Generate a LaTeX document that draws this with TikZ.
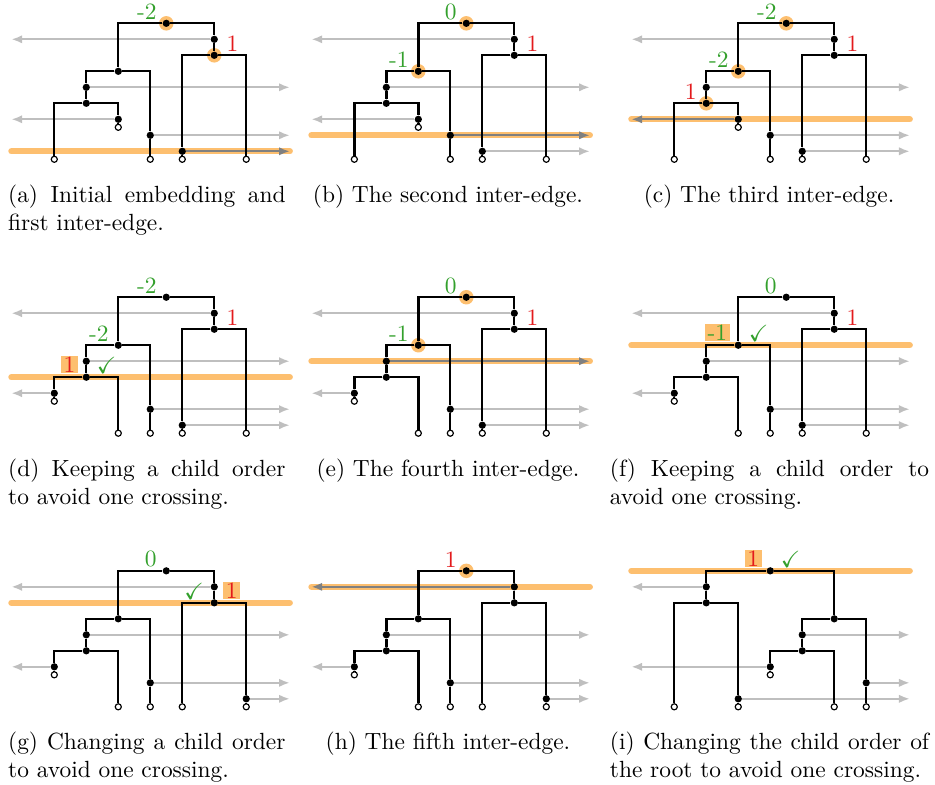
\documentclass[tikz,border=0pt]{standalone}
\usepackage{amssymb}
\usetikzlibrary{positioning,arrows.meta,backgrounds}
\definecolor{hlorange}{RGB}{253,191,111}
\definecolor{iegray}{RGB}{191,191,191}
\definecolor{iedark}{RGB}{128,128,128}
\definecolor{pgreen}{RGB}{51,160,44}
\definecolor{pred}{RGB}{227,26,28}
\tikzstyle{dot}=[circle,fill=black,inner sep=0pt,minimum size=3.1pt]
\tikzstyle{leaf}=[circle,draw=black,fill=white,line width=0.5pt,inner sep=0pt,minimum size=2.6pt]
\tikzstyle{edge}=[black,line width=1pt]
\tikzstyle{inter}=[iegray,line width=0.85pt,-{Latex[length=4.6pt,width=3.6pt]}]
\tikzstyle{active}=[inter,iedark]
\tikzstyle{hlline}=[hlorange,line width=2.7pt,line cap=round]
\tikzstyle{num}=[inner sep=0pt]
\tikzstyle{numbox}=[fill=hlorange,inner xsep=1pt,inner ysep=0.3pt]
\tikzstyle{chk}=[inner sep=0pt,text=pgreen]
\tikzstyle{capt}=[inner sep=0pt,align=justify,anchor=base west]
\tikzstyle{capc}=[inner sep=0pt,anchor=base]
\tikzset{ie1/.style={inter},ie2/.style={inter},ie3/.style={inter},
  ie4/.style={inter},ie5/.style={inter}}
% #1 root, #2 right/left child b, #3 child a, #4 c, #5 c1, #6 leaf of c,
% #7 a2, #8 b2, #9 leaf of b
\newcommand{\drawtree}[9]{%
  \coordinate (lft) at (-1.34,0);
  \coordinate (rgt) at (7.36,0);
  \node[dot] (r) at (#1,0) {};
  \node[dot] (b1) at (#2,1) {};
  \node[dot] (b) at (#2,2) {};
  \node[dot] (a) at (#3,3) {};
  \node[dot] (a1) at (#4,4) {};
  \node[dot] (c) at (#4,5) {};
  \node[dot] (c1) at (#5,6) {};
  \node[leaf] (lc1) at (#5,6.5) {};
  \node[leaf] (lc) at (#6,8.5) {};
  \node[dot] (a2) at (#7,7) {};
  \node[leaf] (la2) at (#7,8.5) {};
  \node[dot] (b2) at (#8,8) {};
  \node[leaf] (lb2) at (#8,8.5) {};
  \node[leaf] (lb) at (#9,8.5) {};
  % inter-edges
  \draw[ie5] (b1) -- (b1 -| lft);
  \draw[ie4] (a1) -- (a1 -| rgt);
  \draw[ie3] (c1) -- (c1 -| lft);
  \draw[ie2] (a2) -- (a2 -| rgt);
  \draw[ie1] (b2) -- (b2 -| rgt);
  % tree edges
  \draw[edge] (r) -| (a);
  \draw[edge] (r) -| (b1) -- (b);
  \draw[edge] (b) -| (b2) -- (lb2);
  \draw[edge] (b) -| (lb);
  \draw[edge] (a) -| (a1) -- (c);
  \draw[edge] (a) -| (a2) -- (la2);
  \draw[edge] (c) -| (c1) -- (lc1);
  \draw[edge] (c) -| (lc);
}

\begin{document}
\begin{tikzpicture}
  \useasboundingbox (0,0) rectangle (399.5pt,-335.4pt);
  % (a)
  \begin{scope}[shift={(23.2pt,-9.96pt)},x=13.67pt,y=-6.835pt,ie1/.style={active}]
    \drawtree{3.5}{5}{2}{1}{2}{0}{3}{4}{6}
    \begin{pgfonlayer}{background}
      \draw[hlline] (b2 -| lft) -- (b2 -| rgt);
      \fill[hlorange] (r) circle (3.1pt) (b) circle (3.1pt);
    \end{pgfonlayer}
    \node[num,text=pgreen,above left=0pt and 2.7pt of r] {-2};
    \node[num,text=pred,above right=0pt and 3.8pt of b] {1};
  \end{scope}
  % (b)
  \begin{scope}[shift={(151.4pt,-9.96pt)},x=13.67pt,y=-6.835pt,ie2/.style={active}]
    \drawtree{3.5}{5}{2}{1}{2}{0}{3}{4}{6}
    \begin{pgfonlayer}{background}
      \draw[hlline] (a2 -| lft) -- (a2 -| rgt);
      \fill[hlorange] (r) circle (3.1pt) (a) circle (3.1pt);
    \end{pgfonlayer}
    \node[num,text=pgreen,above left=0pt and 2.7pt of r] {0};
    \node[num,text=pgreen,above left=0pt and 2.7pt of a] {-1};
    \node[num,text=pred,above right=0pt and 3.8pt of b] {1};
  \end{scope}
  % (c)
  \begin{scope}[shift={(288.1pt,-9.96pt)},x=13.67pt,y=-6.835pt,ie3/.style={active}]
    \drawtree{3.5}{5}{2}{1}{2}{0}{3}{4}{6}
    \begin{pgfonlayer}{background}
      \draw[hlline] (c1 -| lft) -- (c1 -| rgt);
      \fill[hlorange] (r) circle (3.1pt) (a) circle (3.1pt) (c) circle (3.1pt);
    \end{pgfonlayer}
    \node[num,text=pgreen,above left=0pt and 2.7pt of r] {-2};
    \node[num,text=pgreen,above left=0pt and 2.7pt of a] {-2};
    \node[num,text=pred,above left=0pt and 2.7pt of c] {1};
    \node[num,text=pred,above right=0pt and 3.8pt of b] {1};
  \end{scope}
  % (d)
  \begin{scope}[shift={(23.2pt,-127pt)},x=13.67pt,y=-6.835pt]
    \drawtree{3.5}{5}{2}{1}{0}{2}{3}{4}{6}
    \begin{pgfonlayer}{background}
      \draw[hlline] (c -| lft) -- (c -| rgt);
    \end{pgfonlayer}
    \node[num,text=pgreen,above left=0pt and 2.7pt of r] {-2};
    \node[num,text=pgreen,above left=0pt and 2.7pt of a] {-2};
    \node[numbox,text=pred,above left=0.2pt and 2.3pt of c] {1};
    \node[chk,above right=0.2pt and 3.1pt of c] {$\checkmark$};
    \node[num,text=pred,above right=0pt and 3.8pt of b] {1};
  \end{scope}
  % (e)
  \begin{scope}[shift={(151.4pt,-127pt)},x=13.67pt,y=-6.835pt,ie4/.style={active}]
    \drawtree{3.5}{5}{2}{1}{0}{2}{3}{4}{6}
    \begin{pgfonlayer}{background}
      \draw[hlline] (a1 -| lft) -- (a1 -| rgt);
      \fill[hlorange] (r) circle (3.1pt) (a) circle (3.1pt);
    \end{pgfonlayer}
    \node[num,text=pgreen,above left=0pt and 2.7pt of r] {0};
    \node[num,text=pgreen,above left=0pt and 2.7pt of a] {-1};
    \node[num,text=pred,above right=0pt and 3.8pt of b] {1};
  \end{scope}
  % (f)
  \begin{scope}[shift={(288.1pt,-127pt)},x=13.67pt,y=-6.835pt]
    \drawtree{3.5}{5}{2}{1}{0}{2}{3}{4}{6}
    \begin{pgfonlayer}{background}
      \draw[hlline] (a -| lft) -- (a -| rgt);
    \end{pgfonlayer}
    \node[num,text=pgreen,above left=0pt and 2.7pt of r] {0};
    \node[numbox,text=pgreen,above left=0.2pt and 2.3pt of a] {-1};
    \node[chk,above right=0.2pt and 3.1pt of a] {$\checkmark$};
    \node[num,text=pred,above right=0pt and 3.8pt of b] {1};
  \end{scope}
  % (g)
  \begin{scope}[shift={(23.2pt,-243.9pt)},x=13.67pt,y=-6.835pt]
    \drawtree{3.5}{5}{2}{1}{0}{2}{3}{6}{4}
    \begin{pgfonlayer}{background}
      \draw[hlline] (b -| lft) -- (b -| rgt);
    \end{pgfonlayer}
    \node[num,text=pgreen,above left=0pt and 2.7pt of r] {0};
    \node[numbox,text=pred,above right=0.2pt and 2.5pt of b] {1};
    \node[chk,above left=0.2pt and 3pt of b] {$\checkmark$};
  \end{scope}
  % (h)
  \begin{scope}[shift={(151.4pt,-243.9pt)},x=13.67pt,y=-6.835pt,ie5/.style={active}]
    \drawtree{3.5}{5}{2}{1}{0}{2}{3}{6}{4}
    \begin{pgfonlayer}{background}
      \draw[hlline] (b1 -| lft) -- (b1 -| rgt);
      \fill[hlorange] (r) circle (3.1pt);
    \end{pgfonlayer}
    \node[num,text=pred,above left=0pt and 2.7pt of r] {1};
  \end{scope}
  % (i)
  \begin{scope}[shift={(288.1pt,-243.9pt)},x=13.67pt,y=-6.835pt]
    \drawtree{3}{1}{5}{4}{3}{5}{6}{2}{0}
    \begin{pgfonlayer}{background}
      \draw[hlline] (r -| lft) -- (r -| rgt);
    \end{pgfonlayer}
    \node[numbox,text=pred,above left=0.2pt and 2.3pt of r] {1};
    \node[chk,above right=0.2pt and 3.1pt of r] {$\checkmark$};
  \end{scope}
  % captions
  \node[capt,text width=118.5pt] (capa) at (3.3pt,-86.5pt)
    {(a) Initial embedding and\linebreak first inter-edge.};
  \node[capc] (capb) at (191.4pt,-86.5pt) {(b) The second inter-edge.};
  \node[capc] (capc) at (328.6pt,-86.5pt) {(c) The third inter-edge.};
  \node[capt,text width=118.5pt] (capd) at (3.3pt,-203.5pt)
    {(d) Keeping a child order\linebreak to avoid one crossing.};
  \node[capc] (cape) at (191.4pt,-203.5pt) {(e) The fourth inter-edge.};
  \node[capt,text width=136.4pt] (capf) at (260.4pt,-203.5pt)
    {(f) Keeping a child order to\linebreak avoid one crossing.};
  \node[capt,text width=118.5pt] (capg) at (3.3pt,-320.4pt)
    {(g) Changing a child order\linebreak to avoid one crossing.};
  \node[capc] (caph) at (191.4pt,-320.4pt) {(h) The fifth inter-edge.};
  \node[capt,text width=136.4pt] (capi) at (260.4pt,-320.4pt)
    {(i) Changing the child order of\linebreak the root to avoid one crossing.};
\end{tikzpicture}
\end{document}
